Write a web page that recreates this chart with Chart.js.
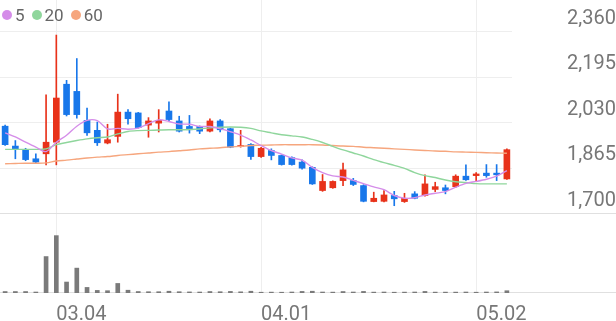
<!DOCTYPE html>
<html>
<head>
<meta charset="utf-8">
<script src="https://cdn.jsdelivr.net/npm/chart.js@4.4.1/dist/chart.umd.min.js"></script>
<style>
html, body { margin: 0; padding: 0; background: #fff; }
#wrap { position: relative; width: 616px; height: 321px; font-family: Roboto, sans-serif; }
#priceBox { position: absolute; left: 0; top: 0; width: 616px; height: 214px; }
#volBox { position: absolute; left: 0; top: 214px; width: 616px; height: 107px; }
#legend { position: absolute; left: 2px; top: 5px; font-size: 17px; line-height: 20px; color: #666; display: flex; align-items: center; }
#legend .dot { display: inline-block; width: 10px; height: 10px; border-radius: 50%; margin-right: 3px; }
#legend .item { display: flex; align-items: center; margin-right: 7px; }
</style>
</head>
<body>
<div id="wrap">
  <div id="priceBox"><canvas id="priceChart"></canvas></div>
  <div id="volBox"><canvas id="volChart"></canvas></div>
  <div id="legend"></div>
</div>
<script>
// trading days shown
const dates = ['02.23', '02.26', '02.27', '02.28', '02.29', '03.04', '03.05', '03.06', '03.07', '03.08',
    '03.11', '03.12', '03.13', '03.14', '03.15', '03.18', '03.19', '03.20', '03.21', '03.22',
    '03.25', '03.26', '03.27', '03.28', '03.29', '04.01', '04.02', '04.03', '04.04', '04.05',
    '04.08', '04.09', '04.11', '04.12', '04.15', '04.16', '04.17', '04.18', '04.19', '04.22',
    '04.23', '04.24', '04.25', '04.26', '04.29', '04.30', '05.02', '05.03', '05.07', '05.08'];
const xTickLabels = ['03.04', '04.01', '05.02'];
const priceTicks = [1700, 1865, 2030, 2195, 2360];

const open = [2018, 1946, 1934, 1900, 1918, 1960, 2170, 2144, 2039, 2003,
    1957, 1981, 2069, 2066, 2022, 2029, 2073, 2037, 2017, 2017,
    2000, 2037, 2009, 1944, 1952, 1908, 1930, 1912, 1904, 1888,
    1869, 1785, 1795, 1821, 1821, 1803, 1745, 1746, 1767, 1745,
    1773, 1767, 1789, 1795, 1799, 1837, 1839, 1848, 1848, 1827];
const high = [2022, 1966, 1938, 1918, 2132, 2348, 2184, 2263, 2084, 2033,
    2025, 2134, 2078, 2068, 2049, 2078, 2106, 2054, 2057, 2019,
    2045, 2042, 2011, 2003, 1955, 1941, 1936, 1914, 1907, 1896,
    1871, 1843, 1820, 1884, 1829, 1806, 1779, 1785, 1782, 1775,
    1781, 1842, 1815, 1805, 1842, 1878, 1850, 1879, 1879, 1936];
const low = [1948, 1900, 1893, 1886, 1878, 1878, 2055, 2047, 1985, 1948,
    1954, 1960, 2025, 2011, 1978, 1997, 2037, 1997, 1993, 1991,
    1997, 1997, 1940, 1942, 1898, 1905, 1896, 1877, 1877, 1862,
    1807, 1782, 1793, 1803, 1803, 1744, 1744, 1744, 1730, 1742,
    1755, 1765, 1781, 1773, 1796, 1822, 1819, 1833, 1821, 1825];
const close = [1951, 1934, 1897, 1888, 1960, 2120, 2060, 2060, 1994, 1958,
    1969, 2069, 2045, 2013, 2037, 2039, 2042, 2000, 2005, 2000,
    2037, 2005, 1942, 1948, 1908, 1938, 1912, 1879, 1879, 1866,
    1809, 1818, 1818, 1860, 1807, 1746, 1757, 1769, 1755, 1757,
    1757, 1809, 1799, 1785, 1837, 1824, 1845, 1839, 1842, 1933];
// volume, thousands of shares
const volume = [150, 150, 150, 100, 3690, 5810, 1110, 2520, 565, 262,
    232, 968, 282, 150, 130, 130, 180, 130, 110, 100,
    150, 130, 160, 120, 180, 80, 90, 80, 100, 160,
    180, 100, 90, 150, 100, 160, 90, 100, 80, 90,
    100, 160, 90, 90, 90, 100, 80, 100, 110, 230];

// moving averages
const ma5 = [1994, 1979, 1960, 1942, 1926, 1960, 1985, 2018, 2039, 2038,
    2008, 2010, 2007, 2011, 2027, 2041, 2035, 2026, 2025, 2017,
    2017, 2009, 1998, 1986, 1968, 1948, 1930, 1917, 1903, 1895,
    1869, 1850, 1838, 1834, 1822, 1810, 1798, 1788, 1767, 1757,
    1759, 1769, 1775, 1781, 1797, 1811, 1818, 1826, 1837, 1857];
const ma20 = [1934, 1934, 1934, 1934, 1936, 1951, 1959, 1966, 1972, 1976,
    1979, 1990, 1999, 2002, 2003, 2004, 2005, 2005, 2006, 2008,
    2012, 2014, 2015, 2014, 2010, 2001, 1994, 1987, 1983, 1979,
    1970, 1959, 1945, 1932, 1921, 1910, 1897, 1886, 1876, 1865,
    1850, 1839, 1832, 1823, 1817, 1814, 1810, 1809, 1809, 1809];
const ma60 = [1882, 1883, 1884, 1884, 1885, 1892, 1895, 1899, 1903, 1906,
    1908, 1912, 1915, 1918, 1921, 1924, 1926, 1929, 1932, 1936,
    1938, 1940, 1943, 1945, 1948, 1949, 1950, 1951, 1951, 1951,
    1951, 1950, 1948, 1946, 1945, 1942, 1940, 1938, 1936, 1934,
    1932, 1930, 1928, 1927, 1925, 1924, 1923, 1922, 1921, 1920];

const maNames = ['5', '20', '60'];
const maColors = ['#d58de9', '#8fd69c', '#f6a67e'];

const upColor = '#e8321a';
const downColor = '#1877ea';
const gridColor = '#eeeeee';
const lineColor = '#e0e0e0';

const candleColors = open.map((o, i) => close[i] >= o ? upColor : downColor);
const tickIdx = xTickLabels.map(l => dates.indexOf(l));

// legend
const legend = document.getElementById('legend');
maNames.forEach((n, i) => {
    const item = document.createElement('span');
    item.className = 'item';
    item.innerHTML = '<span class="dot" style="background:' + maColors[i] + '"></span>' + n;
    legend.appendChild(item);
});

// full width line at bottom of the plot area
const bottomLine = {
    id: 'bottomLine',
    beforeDatasetsDraw(chart) {
        const ctx = chart.ctx;
        const y = Math.round(chart.chartArea.bottom) - 0.5;
        ctx.save();
        ctx.strokeStyle = lineColor;
        ctx.lineWidth = 1;
        ctx.beginPath();
        ctx.moveTo(0, y);
        ctx.lineTo(chart.width, y);
        ctx.stroke();
        ctx.restore();
    }
};

// Price chart (candles + moving averages)
const ctx1 = document.getElementById('priceChart').getContext('2d');
const priceChart = new Chart(ctx1, {
    type: 'bar',
    data: {
        labels: dates,
        datasets: [{
            type: 'line',
            label: 'MA' + maNames[0],
            data: ma5,
            borderColor: maColors[0],
            borderWidth: 1.4,
            pointRadius: 0,
            tension: 0.3,
            order: 0
        }, {
            type: 'line',
            label: 'MA' + maNames[1],
            data: ma20,
            borderColor: maColors[1],
            borderWidth: 1.4,
            pointRadius: 0,
            tension: 0.3,
            order: 0
        }, {
            type: 'line',
            label: 'MA' + maNames[2],
            data: ma60,
            borderColor: maColors[2],
            borderWidth: 1.4,
            pointRadius: 0,
            tension: 0.3,
            order: 0
        }, {
            label: 'body',
            data: open.map((o, i) => [o, close[i]]),
            backgroundColor: candleColors,
            barThickness: 6,
            grouped: false,
            order: 1
        }, {
            label: 'wick',
            data: low.map((l, i) => [l, high[i]]),
            backgroundColor: candleColors,
            barThickness: 1,
            grouped: false,
            order: 2
        }]
    },
    options: {
        responsive: true,
        maintainAspectRatio: false,
        animation: false,
        layout: { padding: 0 },
        plugins: { legend: { display: false }, tooltip: { enabled: false } },
        scales: {
            x: {
                offset: true,
                grid: { color: gridColor, offset: false, drawTicks: false },
                border: { display: false },
                ticks: { display: false },
                afterBuildTicks: s => { s.ticks = tickIdx.map(v => ({ value: v })); },
                afterFit: s => { s.height = 0; s.paddingLeft = 0; s.paddingRight = 0; }
            },
            y: {
                position: 'right',
                min: 1700,
                max: 2475,
                grid: { color: gridColor, drawTicks: false },
                border: { display: false },
                ticks: {
                    color: '#777',
                    font: { family: 'Roboto', size: 20 },
                    padding: 49,
                    labelOffset: -13,
                    crossAlign: 'far',
                    callback: v => v.toLocaleString('en-US')
                },
                afterBuildTicks: s => { s.ticks = priceTicks.map(v => ({ value: v })); },
                afterFit: s => { s.width = 104; s.paddingTop = 0; s.paddingBottom = 0; }
            }
        }
    },
    plugins: [bottomLine]
});

// Volume chart
const ctx2 = document.getElementById('volChart').getContext('2d');
const volChart = new Chart(ctx2, {
    type: 'bar',
    data: {
        labels: dates,
        datasets: [{
            label: 'Volume',
            data: volume,
            backgroundColor: '#7a7a7a',
            barThickness: 4
        }]
    },
    options: {
        responsive: true,
        maintainAspectRatio: false,
        animation: false,
        layout: { padding: 0 },
        plugins: { legend: { display: false }, tooltip: { enabled: false } },
        scales: {
            x: {
                offset: true,
                grid: { color: gridColor, offset: false, drawTicks: false },
                border: { display: false },
                ticks: {
                    color: '#777',
                    font: { family: 'Roboto', size: 20 },
                    align: 'start',
                    maxRotation: 0,
                    autoSkip: false,
                    padding: 10
                },
                afterBuildTicks: s => { s.ticks = tickIdx.map(v => ({ value: v })); },
                afterFit: s => { s.height = 28; }
            },
            y: {
                position: 'right',
                min: 0,
                max: 8000,
                grid: { display: false },
                border: { display: false },
                ticks: { display: false },
                afterFit: s => { s.width = 104; }
            }
        }
    },
    plugins: [bottomLine]
});
</script>
</body>
</html>
